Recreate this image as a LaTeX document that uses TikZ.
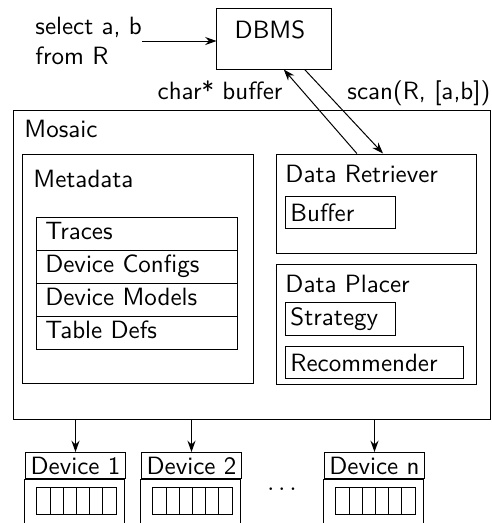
\documentclass[tikz,border=0pt]{standalone}
\usetikzlibrary{fit, calc, arrows.meta}

\begin{document}
\begin{tikzpicture}[x=0.4pt, y=-0.4pt, font=\sffamily,
    bx/.style={rectangle, draw, inner sep=0pt},
    lbl/.style={anchor=base west, inner sep=0pt},
    row/.style={rectangle, draw, anchor=north west, align=left, text width=73.4pt,
        text height=7pt, text depth=2pt, inner ysep=2.1pt, outer sep=0pt},
    part/.style={rectangle, draw, anchor=north west, align=left, inner sep=2pt, minimum height=12.8pt},
    devhead/.style={rectangle, draw, anchor=north west, inner sep=1pt, minimum width=40pt, minimum height=10.4pt},
    >={Stealth[length=4.5pt, width=3.2pt]}]
    \clip (0,0) rectangle (492,523);

    % query and DBMS
    \node[bx, fit={(217,8) (332,69)}] (dbms) {};
    \node[anchor=base, inner sep=0pt] (dbmstext) at (270,38) {DBMS};
    \node[anchor=west, align=left, inner sep=0pt] (query) at (35,41) {select a, b\\from R};
    \draw[->] (query.east) -- (query.east -| dbms.west);

    % Mosaic
    \node[bx, fit={(14,110) (491,419)}] (mosaic) {};
    \node[lbl] (mosaictext) at (24,137) {Mosaic};

    % metadata
    \node[bx, fit={(23,154) (254,383)}] (meta) {};
    \node[lbl] (metatext) at (33,187) {Metadata};
    \foreach \name [count=\i] in {Traces, Device Configs, Device Models, Table Defs}
        \node[row] (row\i) at (37,{217+(\i-1)*33}) {\name};

    % data retriever
    \node[bx, fit={(277,154) (477,253)}] (retriever) {};
    \node[lbl] (retrievertext) at (285,182) {Data Retriever};
    \node[part, text width=40pt] (buffer) at (285,196) {Buffer};

    % data placer
    \node[bx, fit={(277,264) (477,384)}] (placer) {};
    \node[lbl] (placertext) at (285,292) {Data Placer};
    \node[part, text width=40pt] (strategy) at (285,302) {Strategy};
    \node[part, text width=67.2pt] (recommender) at (285,346) {Recommender};

    % DBMS <-> retriever
    \draw[->] ($(retriever.north west)!.40!(retriever.north east)$) -- ($(dbms.south west)!.58!(dbms.south east)$);
    \draw[->] ($(dbms.south west)!.76!(dbms.south east)$) -- ($(retriever.north west)!.53!(retriever.north east)$);
    \node[lbl, anchor=base east] (buffertext) at (283,99) {char* buffer};
    \node[lbl] (scantext) at (347,99) {scan(R, [a,b])};

    % devices
    \foreach \n/\x in {1/25, 2/141, n/324} {
        \node[devhead] (dev\n) at (\x,452) {Device \n};
        \draw (dev\n.south west) rectangle ++(100,60);
        \foreach \c in {0,...,5}
            \draw (dev\n.south west) ++({12+\c*13.2},8) rectangle ++(13.2,27);
        \draw[->] (mosaic.south -| dev\n.north) -- (dev\n.north);
    }
    \node (dots) at (282,489) {$\dots$};
\end{tikzpicture}
\end{document}
